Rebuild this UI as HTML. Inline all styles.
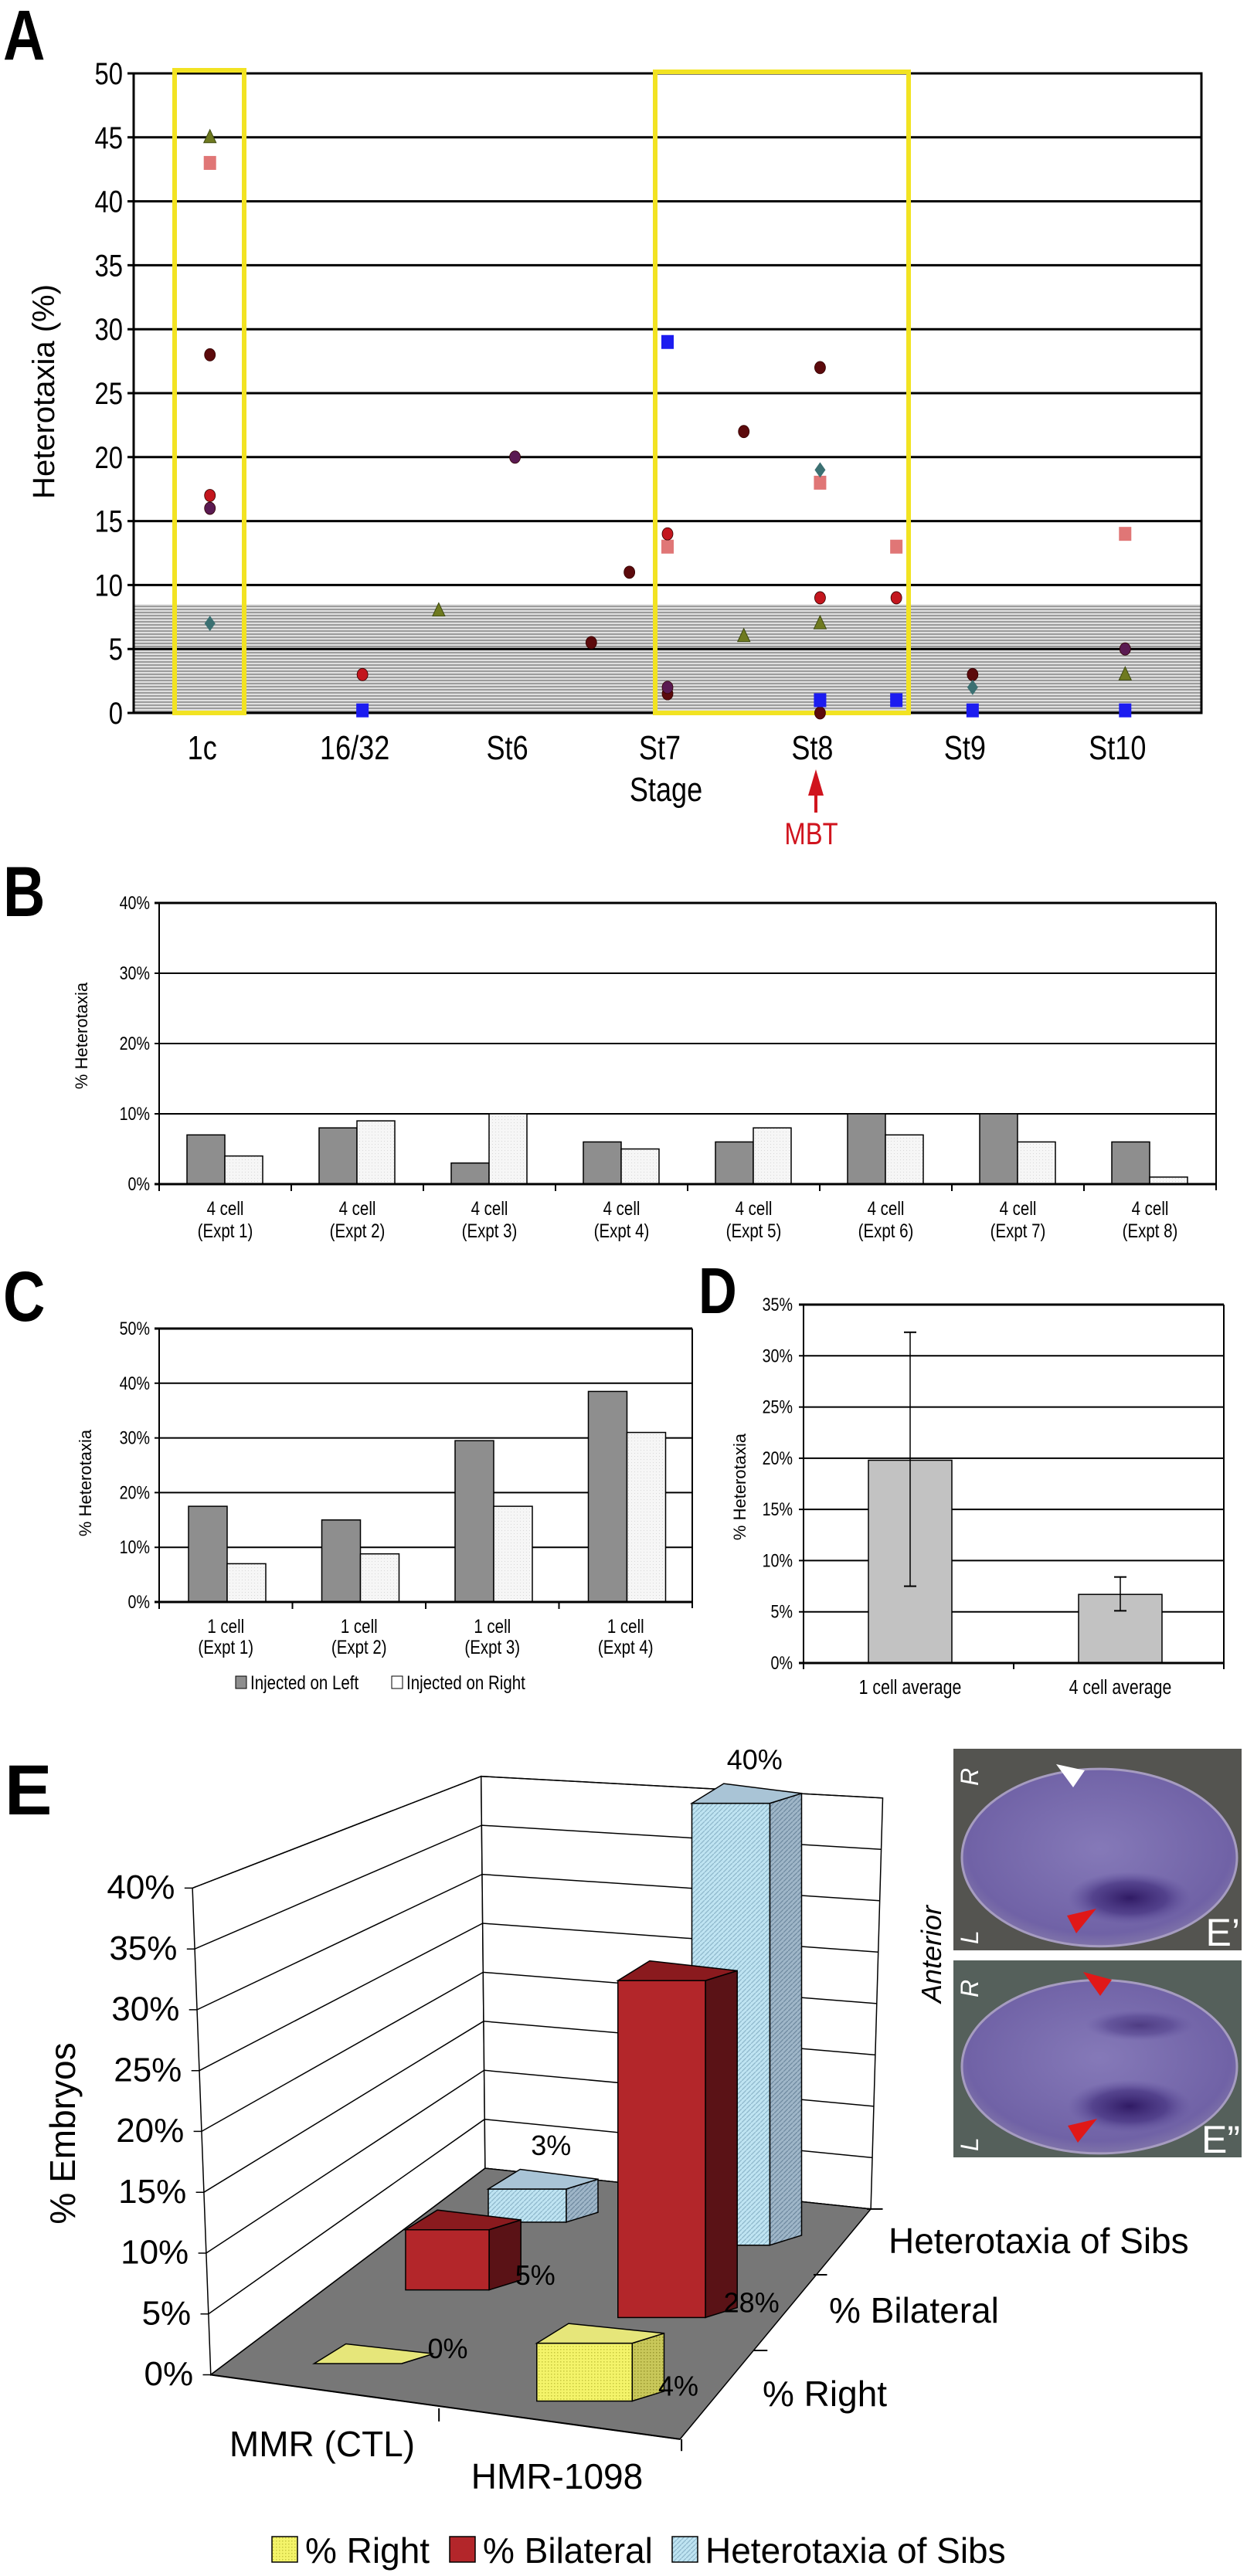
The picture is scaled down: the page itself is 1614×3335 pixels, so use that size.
<!DOCTYPE html>
<html><head><meta charset="utf-8">
<style>
html,body{margin:0;padding:0;background:#fff;}
#fig{position:absolute;left:0;top:0;width:1614px;height:3335px;}
text{font-family:"Liberation Sans",Arial,sans-serif;}
</style></head>
<body>
<svg id="fig" xmlns="http://www.w3.org/2000/svg" width="1614" height="3335" viewBox="0 0 1614 3335">
<defs>
<pattern id="hatchA" width="6" height="4" patternUnits="userSpaceOnUse"><rect width="6" height="4" fill="#e0e0e0"/><line x1="0" y1="1" x2="6" y2="1" stroke="#8a8a8a" stroke-width="1.6"/></pattern>
<pattern id="dotL" width="4" height="4" patternUnits="userSpaceOnUse"><rect width="4" height="4" fill="#f6f6f6"/><rect x="1" y="1" width="1" height="1" fill="#d8d8d8"/></pattern>
<pattern id="dotY" width="4" height="4" patternUnits="userSpaceOnUse"><rect width="4" height="4" fill="#f4f46a"/><rect x="1" y="1" width="1.5" height="1.5" fill="#c8c840"/></pattern>
<pattern id="dotYd" width="4" height="4" patternUnits="userSpaceOnUse"><rect width="4" height="4" fill="#c9c85a"/><rect x="1" y="1" width="1.5" height="1.5" fill="#9a9830"/></pattern>
<pattern id="diagB" width="6" height="6" patternUnits="userSpaceOnUse"><rect width="6" height="6" fill="#bfe4f2"/><line x1="0" y1="6" x2="6" y2="0" stroke="#8fb8cc" stroke-width="1.3"/></pattern>
<pattern id="diagBd" width="6" height="6" patternUnits="userSpaceOnUse"><rect width="6" height="6" fill="#9fb6c8"/><line x1="0" y1="6" x2="6" y2="0" stroke="#6f8aa0" stroke-width="1.3"/></pattern>
<radialGradient id="emb1" cx="0.5" cy="0.45" r="0.6"><stop offset="0" stop-color="#8579b8"/><stop offset="0.8" stop-color="#7062a6"/><stop offset="1" stop-color="#8a80aa"/></radialGradient>
<radialGradient id="spot" cx="0.5" cy="0.5" r="0.5"><stop offset="0" stop-color="#2c1660" stop-opacity="0.95"/><stop offset="0.6" stop-color="#3c2878" stop-opacity="0.6"/><stop offset="1" stop-color="#5a4a98" stop-opacity="0"/></radialGradient>
</defs>
<g id="root"></g>
</svg>
<script>
// ---------- DATA ----------
// Panel A
const aCats = ['1c','16/32','St6','St7','St8','St9','St10'];
const aTicks = [0,5,10,15,20,25,30,35,40,45,50];
const aTriX = [0,1.5,3.5,4,6];          const aTriY = [45,8,6,7,3];
const aPinkX = [0,3,4,4.5,6];           const aPinkY = [43,13,18,13,14];
const aMaroonX = [0,2.5,2.75,3,3.5,4,4,5]; const aMaroonY = [28,5.5,11,1.5,22,27,0,3];
const aRedX = [0,1,3,4,4.5];            const aRedY = [17,3,14,9,9];
const aPurpleX = [0,2,3,6];             const aPurpleY = [16,20,2,5];
const aTealX = [0,4,5];                 const aTealY = [7,19,2];
const aBlueX = [1,3,4,4.5,5,6];         const aBlueY = [0.2,29,1,1,0.2,0.2];
const aBand = 8.5;
// Panel B
const bCats = ['Expt 1','Expt 2','Expt 3','Expt 4','Expt 5','Expt 6','Expt 7','Expt 8'];
const bLeft = [7,8,3,6,6,10,10,6];
const bRight = [4,9,10,5,8,7,6,1];
const bTicks = [0,10,20,30,40];
// Panel C
const cCats = ['Expt 1','Expt 2','Expt 3','Expt 4'];
const cLeft = [17.5,15,29.5,38.5];
const cRight = [7,8.8,17.5,31];
const cTicks = [0,10,20,30,40,50];
// Panel D
const dCats = ['1 cell average','4 cell average'];
const dVals = [19.8,6.7];
const dErrHi = [32.3,8.4];
const dErrLo = [7.5,5.1];
const dTicks = [0,5,10,15,20,25,30,35];
// Panel E
const eCats = ['MMR (CTL)','HMR-1098'];
const eSeries = ['% Right','% Bilateral','Heterotaxia of Sibs'];
const eRight = [0,4];
const eBilateral = [5,28];
const eSibs = [3,40];
const eTicks = [0,5,10,15,20,25,30,35,40];

// ---------- HELPERS ----------
const NS='http://www.w3.org/2000/svg';
const root=document.getElementById('root');
function mk(tag, at, parent){const e=document.createElementNS(NS,tag);for(const k in at)e.setAttribute(k,at[k]);(parent||root).appendChild(e);return e;}
function tx(str, at, parent){
  if(at.class==='nar'){const x=at.x,y=at.y;const a=Object.assign({},at);delete a.class;a.x=0;a.y=0;a.transform=`translate(${x},${y}) scale(0.82,1)`;at=a;}
  const e=mk('text',at,parent);e.textContent=str;return e;}
let el;

// ---------- PANEL A ----------
const gA=mk('g',{});


el=tx('A',{x:4,y:77,'font-size':92,'font-weight':'bold',class:'nar'},gA);


const AL=173,AR=1555,AT=95,AB=923;
const xA=i=>AL+(i+0.5)*(AR-AL)/aCats.length;
const yA=v=>AB-v*(AB-AT)/50;
el=mk('rect',{x:AL,y:yA(aBand),width:AR-AL,height:AB-yA(aBand),fill:'url(#hatchA)'},gA);


for(const t of aTicks){
  el=mk('line',{x1:AL-8,x2:AR,y1:yA(t),y2:yA(t),stroke:'#000','stroke-width':3},gA);
  
  
  el=tx(String(t),{x:AL-14,y:yA(t)+14,'font-size':40,'text-anchor':'end',class:'nar'},gA);
  
  
}
el=mk('rect',{x:AL,y:AT,width:AR-AL,height:AB-AT,fill:'none',stroke:'#000','stroke-width':3},gA);


aCats.forEach((c,i)=>{
  el=tx(c,{x:xA(i)-10,y:983,'font-size':44,'text-anchor':'middle',class:'nar'},gA);
  
  
});
el=tx('Stage',{x:862,y:1037,'font-size':44,'text-anchor':'middle',class:'nar'},gA);


el=tx('Heterotaxia (%)',{x:0,y:0,'font-size':40,'text-anchor':'middle',transform:'translate(70,507) rotate(-90)'},gA);


el=mk('polygon',{points:'1056,996 1046,1030 1066,1030',fill:'#d0141e'},gA);


el=mk('line',{x1:1056,x2:1056,y1:1028,y2:1052,stroke:'#d0141e','stroke-width':4},gA);


el=tx('MBT',{x:1050,y:1093,'font-size':40,'text-anchor':'middle',fill:'#d0141e',class:'nar'},gA);


el=mk('rect',{x:226,y:91,width:90,height:832,fill:'none',stroke:'#f2e322','stroke-width':6},gA);


el=mk('rect',{x:848,y:93,width:328,height:830,fill:'none',stroke:'#f2e322','stroke-width':6},gA);


function circles(xs,ys,col,name){xs.forEach((x,i)=>{el=mk('ellipse',{cx:xA(x),cy:yA(ys[i]),rx:7,ry:8,fill:col,stroke:'#300','stroke-width':0.8},gA);
  
  });}
function squares(xs,ys,col,name){xs.forEach((x,i)=>{el=mk('rect',{x:xA(x)-8,y:yA(ys[i])-9,width:16,height:18,fill:col},gA);
  
  });}
aTriX.forEach((x,i)=>{const cx=xA(x),cy=yA(aTriY[i]);
  el=mk('polygon',{points:`${cx},${cy-10} ${cx-8},${cy+7} ${cx+8},${cy+7}`,fill:'#6f7a20',stroke:'#3e4a10','stroke-width':1},gA);
  
  });
squares(aPinkX,aPinkY,'#e07676','point-pink-square');
circles(aMaroonX,aMaroonY,'#5c0a0c','point-maroon-circle');
circles(aRedX,aRedY,'#c3161e','point-red-circle');
circles(aPurpleX,aPurpleY,'#5a1a52','point-purple-circle');
aTealX.forEach((x,i)=>{const cx=xA(x),cy=yA(aTealY[i]);
  el=mk('polygon',{points:`${cx},${cy-10} ${cx-7},${cy} ${cx},${cy+10} ${cx+7},${cy}`,fill:'#3b7072'},gA);
  
  });
squares(aBlueX,aBlueY,'#1c1cf0','point-blue-square');

// ---------- generic bar chart (B, C) ----------
function barChart(g,L,R,T,B,max,ticks,cats,left,right,off,bw,prefix,fs){
  const cw=(R-L)/cats.length;
  const y=v=>B-v*(B-T)/max;
  for(const t of ticks){
    el=mk('line',{x1:L-6,x2:R,y1:y(t),y2:y(t),stroke:'#000','stroke-width':t===max?3:2},g);
    
    
    el=tx(t+'%',{x:L-12,y:y(t)+8,'font-size':fs,'text-anchor':'end',class:'nar'},g);
    
    
  }
  el=mk('line',{x1:L,x2:L,y1:T,y2:B,stroke:'#000','stroke-width':2},g);
  
  
  el=mk('line',{x1:R,x2:R,y1:T,y2:B+8,stroke:'#000','stroke-width':2},g);
  
  
  cats.forEach((c,i)=>{
    const x0=L+i*cw;
    el=mk('line',{x1:x0,x2:x0,y1:B,y2:B+9,stroke:'#000','stroke-width':2},g);
    
    
    el=mk('rect',{x:x0+off,y:y(left[i]),width:bw,height:B-y(left[i]),fill:'#8e8e8e',stroke:'#000','stroke-width':1.5},g);
    
    
    el=mk('rect',{x:x0+off+bw,y:y(right[i]),width:bw,height:B-y(right[i]),fill:'url(#dotL)',stroke:'#000','stroke-width':1.5},g);
    
    
  });
  el=mk('line',{x1:L-6,x2:R,y1:B,y2:B,stroke:'#000','stroke-width':3},g);
  
  
  return {cw,y};
}
// ---------- PANEL B ----------
const gB=mk('g',{});


el=tx('B',{x:4,y:1186,'font-size':92,'font-weight':'bold',class:'nar'},gB);


const bInfo=barChart(gB,206,1574,1169,1533,40,bTicks,bCats,bLeft,bRight,36,49,'b',24);
bCats.forEach((c,i)=>{const cx=206+(i+0.5)*bInfo.cw;
  el=tx('4 cell',{x:cx,y:1573,'font-size':25,'text-anchor':'middle',class:'nar'},gB);
  
  
  el=tx('('+c+')',{x:cx,y:1602,'font-size':25,'text-anchor':'middle',class:'nar'},gB);
  
  });
el=tx('% Heterotaxia',{x:0,y:0,'font-size':22,'text-anchor':'middle',transform:'translate(113,1341) rotate(-90)'},gB);



// ---------- PANEL C ----------
const gC=mk('g',{});


el=tx('C',{x:4,y:1710,'font-size':92,'font-weight':'bold',class:'nar'},gC);


const cInfo=barChart(gC,206,896,1720,2074,50,cTicks,cCats,cLeft,cRight,38,50,'c',24);
cCats.forEach((c,i)=>{const cx=206+(i+0.5)*cInfo.cw;
  el=tx('1 cell',{x:cx,y:2114,'font-size':25,'text-anchor':'middle',class:'nar'},gC);
  
  
  el=tx('('+c+')',{x:cx,y:2141,'font-size':25,'text-anchor':'middle',class:'nar'},gC);
  
  });
el=tx('% Heterotaxia',{x:0,y:0,'font-size':22,'text-anchor':'middle',transform:'translate(118,1920) rotate(-90)'},gC);


el=mk('rect',{x:305,y:2170,width:14,height:16,fill:'#8e8e8e',stroke:'#000','stroke-width':1},gC);


el=tx('Injected on Left',{x:324,y:2187,'font-size':25,class:'nar'},gC);


el=mk('rect',{x:507,y:2170,width:14,height:16,fill:'#fff',stroke:'#000','stroke-width':1},gC);


el=tx('Injected on Right',{x:526,y:2187,'font-size':25,class:'nar'},gC);



// ---------- PANEL D ----------
const gD=mk('g',{});


el=tx('D',{x:904,y:1700,'font-size':84,'font-weight':'bold',class:'nar'},gD);


const DL=1040,DR=1584,DT=1689,DB=2153;
const yD=v=>DB-v*(DB-DT)/35;
const dcw=(DR-DL)/dCats.length;
for(const t of dTicks){
  el=mk('line',{x1:DL-6,x2:DR,y1:yD(t),y2:yD(t),stroke:'#000','stroke-width':t===35?3:2},gD);
  
  
  el=tx(t+'%',{x:DL-14,y:yD(t)+8,'font-size':24,'text-anchor':'end',class:'nar'},gD);
  
  
}
el=mk('line',{x1:DL,x2:DL,y1:DT,y2:DB+8,stroke:'#000','stroke-width':2},gD);


el=mk('line',{x1:DR,x2:DR,y1:DT,y2:DB+8,stroke:'#000','stroke-width':2},gD);


dCats.forEach((c,i)=>{
  const x0=DL+i*dcw;
  el=mk('line',{x1:x0,x2:x0,y1:DB,y2:DB+8,stroke:'#000','stroke-width':2},gD);
  
  
  el=mk('rect',{x:x0+84,y:yD(dVals[i]),width:108,height:DB-yD(dVals[i]),fill:'#c2c2c2',stroke:'#000','stroke-width':1.5},gD);
  
  
  const cx=x0+dcw/2+2;
  el=mk('line',{x1:cx,x2:cx,y1:yD(dErrHi[i]),y2:yD(dErrLo[i]),stroke:'#000','stroke-width':1.5},gD);
  
  
  el=mk('line',{x1:cx-8,x2:cx+8,y1:yD(dErrHi[i]),y2:yD(dErrHi[i]),stroke:'#000','stroke-width':2},gD);
  
  
  el=mk('line',{x1:cx-8,x2:cx+8,y1:yD(dErrLo[i]),y2:yD(dErrLo[i]),stroke:'#000','stroke-width':2},gD);
  
  
  el=tx(c,{x:cx,y:2193,'font-size':26,'text-anchor':'middle',class:'nar'},gD);
  
  
});
el=mk('line',{x1:DR,x2:DR,y1:DB,y2:DB+8,stroke:'#000','stroke-width':2},gD);


el=mk('line',{x1:DL-6,x2:DR,y1:DB,y2:DB,stroke:'#000','stroke-width':3},gD);


el=tx('% Heterotaxia',{x:0,y:0,'font-size':22,'text-anchor':'middle',transform:'translate(965,1925) rotate(-90)'},gD);



// ---------- PANEL E (3D) ----------
const gE=mk('g',{});


const P=(dx,dy)=>[dx*1.0293,2000+dy*0.8514];
const pts=a=>a.map(p=>{const q=P(p[0],p[1]);return q[0].toFixed(1)+','+q[1].toFixed(1);}).join(' ');
el=tx('E',{x:6,y:2349,'font-size':92,'font-weight':'bold'},gE);


const lerp=(a,b,t)=>[a[0]+(b[0]-a[0])*t,a[1]+(b[1]-a[1])*t];
const LE0=[265,1262],LE1=[242,522],C0=[610,948],C1=[605,352],RE0=[1095,1010],RE1=[1110,385];
el=mk('polygon',{points:pts([LE0,LE1,C1,C0]),fill:'#fff',stroke:'#000','stroke-width':1.5},gE);


el=mk('polygon',{points:pts([C0,C1,RE1,RE0]),fill:'#fff',stroke:'#000','stroke-width':1.5},gE);


for(const t of eTicks){
  const f=t/40;
  const a=lerp(LE0,LE1,f),b=lerp(C0,C1,f),c=lerp(RE0,RE1,f);
  el=mk('polyline',{points:pts([[a[0]-10,a[1]],a,b,c]),fill:'none',stroke:'#000','stroke-width':1.5},gE);
  
  
  const q=P(a[0]-22,a[1]+16);
  el=tx(t+'%',{x:q[0],y:q[1],'font-size':44,'text-anchor':'end'},gE);
  
  
}
el=mk('polygon',{points:pts([LE0,C0,RE0,[855,1360]]),fill:'#777',stroke:'#000','stroke-width':1.5},gE);


el=mk('polyline',{points:pts([LE0,[855,1360]]),fill:'none',stroke:'#000','stroke-width':2},gE);


[[552,1333,552,1313],[857,1378,857,1360],[965,1225,948,1225],[1040,1110,1023,1110],[1110,1010,1090,1010]].forEach(s=>{
  const a=P(s[0],s[1]),b=P(s[2],s[3]);
  el=mk('line',{x1:a[0],y1:a[1],x2:b[0],y2:b[1],stroke:'#000','stroke-width':2},gE);
  
  
});
const eLayout=[
 {vals:eRight, fill:'url(#dotY)', side:'url(#dotYd)', top:'#e6e67a', pos:[[395,1245,110],[675,1302,120]], s:22},
 {vals:eBilateral, fill:'#b3262a', side:'#5a1216', top:'#8a1a1e', pos:[[510,1133,105],[777,1175,110]], s:18.3},
 {vals:eSibs, fill:'url(#diagB)', side:'url(#diagBd)', top:'#a9c4d6', pos:[[614,1030,98],[870,1065,98]], s:16.8}
];
const drawOrder=[[2,0],[2,1],[1,0],[1,1],[0,0],[0,1]];
for(const [si,ci] of drawOrder){
  const L=eLayout[si];const [x,b,w]=L.pos[ci];const v=L.vals[ci];const tp=b-v*L.s;
  el=mk('polygon',{points:pts([[x+w,tp],[x+w+40,tp-15],[x+w+40,b-15],[x+w,b]]),fill:L.side,stroke:'#000','stroke-width':1.5},gE);
  
  
  el=mk('rect',{x:P(x,0)[0],y:P(0,tp)[1],width:w*1.0293,height:Math.max(0,(b-tp)*0.8514),fill:L.fill,stroke:'#000','stroke-width':1.5},gE);
  
  
  el=mk('polygon',{points:pts([[x,tp],[x+40,tp-30],[x+w+40,tp-15],[x+w,tp]]),fill:L.top,stroke:'#000','stroke-width':1.5},gE);
  
  
  let lp = si===2 ? P(x+w/2+30,tp-52) : P(x+w+58,b-8);
  el=tx(v+'%',{x:lp[0],y:lp[1],'font-size':36,'text-anchor':'middle'},gE);
  
  
}
[[eCats[0],417,3180],[eCats[1],721,3222]].forEach(c=>{
  el=tx(c[0],{x:c[1],y:c[2],'font-size':46,'text-anchor':'middle'},gE);
  
  });
[[eSeries[2],1150,2917],[eSeries[1],1073,3007],[eSeries[0],987,3115]].forEach(c=>{
  el=tx(c[0],{x:c[1],y:c[2],'font-size':46},gE);
  
  });
el=tx('% Embryos',{x:0,y:0,'font-size':46,'text-anchor':'middle',transform:'translate(97,2762) rotate(-90)'},gE);


const legFills=['url(#dotY)','#b3262a','url(#diagB)'];
const legX=[352,582,870];
eSeries.forEach((s,i)=>{
  el=mk('rect',{x:legX[i],y:3284,width:33,height:33,fill:legFills[i],stroke:'#000','stroke-width':1.5},gE);
  
  
  el=tx(s,{x:legX[i]+43,y:3318,'font-size':46},gE);
  
  
});
function photo(y0,h,second,name){
  const g=mk('g',{},gE);
  
  
  el=mk('rect',{x:1234,y:y0,width:373,height:h,fill:second?'#55605b':'#545450'},g);
  
  
  el=mk('ellipse',{cx:1423,cy:y0+h*0.54,rx:178,ry:h*0.44,fill:'url(#emb1)',stroke:'#a69cc0','stroke-width':3},g);
  
  
  el=mk('ellipse',{cx:1462,cy:y0+h*0.74,rx:80,ry:34,fill:'url(#spot)'},g);
  
  
  if(second){el=mk('ellipse',{cx:1475,cy:y0+h*0.33,rx:70,ry:20,fill:'url(#spot)',opacity:0.6},g);
    
    }
  el=tx('R',{x:0,y:0,'font-size':32,'font-style':'italic',fill:'#fff',transform:`translate(1266,${y0+48}) rotate(-90)`},g);
  
  
  el=tx('L',{x:0,y:0,'font-size':32,'font-style':'italic',fill:'#fff',transform:`translate(1266,${y0+h-8}) rotate(-90)`},g);
  
  
  el=tx(second?'E”':'E’',{x:1605,y:y0+h-6,'font-size':50,fill:'#fff','text-anchor':'end'},g);
  
  
}
photo(2264,261,false,'photo-e-prime');
photo(2538,255,true,'photo-e-double-prime');
el=mk('polygon',{points:'1367,2284 1404,2292 1389,2314',fill:'#fff'},gE);


el=mk('polygon',{points:'1419,2471 1381,2480 1393,2503',fill:'#e01818'},gE);


el=mk('polygon',{points:'1402,2553 1439,2563 1424,2584',fill:'#e01818'},gE);


el=mk('polygon',{points:'1420,2743 1382,2752 1395,2774',fill:'#e01818'},gE);


el=tx('Anterior',{x:0,y:0,'font-size':36,'font-style':'italic','text-anchor':'middle',transform:'translate(1218,2530) rotate(-90)'},gE);


</script>
</body></html>
